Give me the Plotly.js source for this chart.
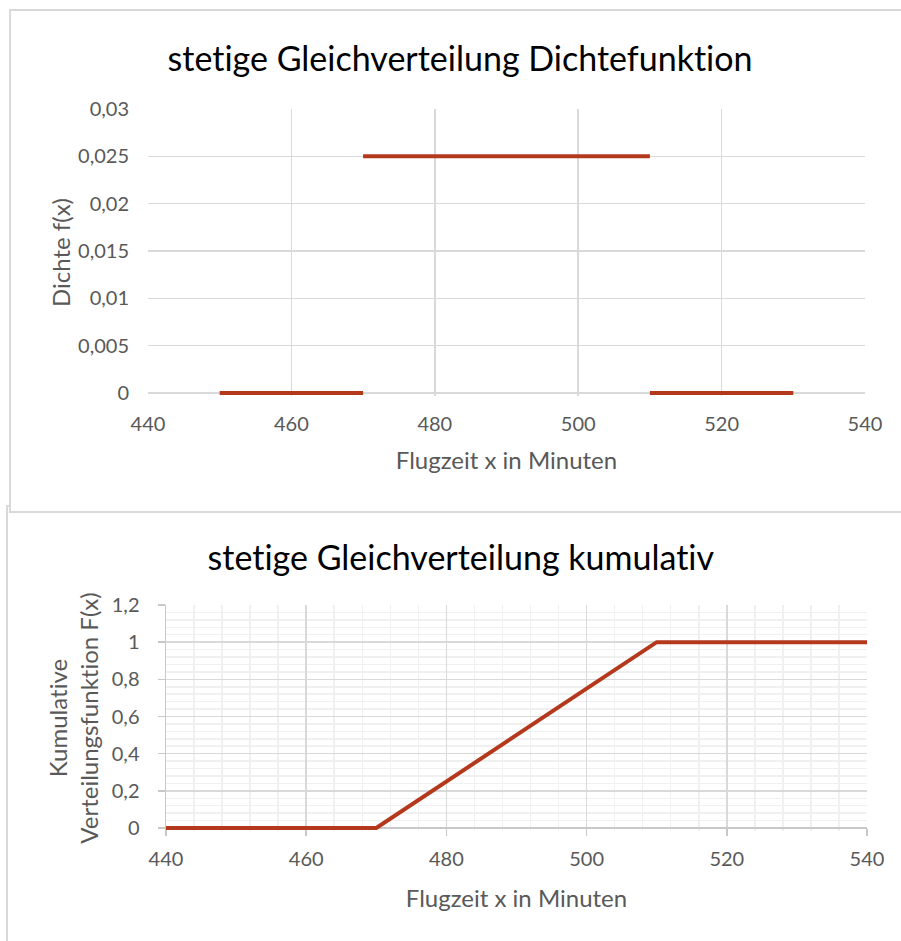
<!DOCTYPE html>
<html>
<head>
<meta charset="utf-8">
<script src="https://cdn.plot.ly/plotly-3.0.1.min.js"></script>
<style>
html,body{margin:0;padding:0;background:#fff;}
#chart text{font-variant-ligatures:none;font-feature-settings:"liga" 0;}
</style>
</head>
<body>
<div id="chart" style="width:901px;height:941px;"></div>
<script>
// Flight time (minutes), uniform on [470, 510]
const densityX = [450, 470, null, 470, 510, null, 510, 530];
const densityY = [0, 0, null, 0.025, 0.025, null, 0, 0];
const cdfX = [440, 470, 510, 540];
const cdfY = [0, 0, 1, 1];

const xTicks = [440, 460, 480, 500, 520, 540];
const xTickText = ['440', '460', '480', '500', '520', '540'];
const densityTicks = [0, 0.005, 0.01, 0.015, 0.02, 0.025, 0.03];
const densityTickText = ['0', '0,005', '0,01', '0,015', '0,02', '0,025', '0,03'];
const cdfTicks = [0, 0.2, 0.4, 0.6, 0.8, 1, 1.2];
const cdfTickText = ['0', '0,2', '0,4', '0,6', '0,8', '1', '1,2'];

const W = 901, H = 941;
const px = v => v / W;
const py = v => 1 - v / H;

// Plot boxes in pixels; a few pixels of head-room below zero so the
// thick zero-level lines are not cut in half by the plot clip.
const PAD = 3;
const boxPdf = {l: 148, r: 865, t: 109, b: 393, ymax: 0.03};
const boxCdf = {l: 166, r: 867, t: 605, b: 828, ymax: 1.2};
const padUnits = box => box.ymax * PAD / (box.b - box.t);

const FONT = 'Lato, "Open Sans", sans-serif';
const LINE = '#b3381c';
const GRID = '#d9d9d9';
const AXIS = '#c8c8c8';
const MINOR = '#f0f0f0';
const LABEL = '#595959';

const traces = [
  {
    x: densityX, y: densityY, xaxis: 'x', yaxis: 'y',
    type: 'scatter', mode: 'lines', connectgaps: false,
    line: {color: LINE, width: 4}, hoverinfo: 'skip'
  },
  {
    x: cdfX, y: cdfY, xaxis: 'x2', yaxis: 'y2',
    type: 'scatter', mode: 'lines',
    line: {color: LINE, width: 4}, hoverinfo: 'skip'
  }
];

const tickFont = {family: FONT, size: 20, color: LABEL};
const axTitleFont = {family: FONT, size: 24, color: LABEL};

const layout = {
  width: W, height: H,
  margin: {l: 0, r: 0, t: 0, b: 0},
  paper_bgcolor: '#ffffff',
  plot_bgcolor: 'rgba(0,0,0,0)',
  showlegend: false,
  font: {family: FONT},
  xaxis: {
    domain: [px(boxPdf.l), px(boxPdf.r)], anchor: 'free', position: py(boxPdf.b),
    range: [440, 540], tickvals: xTicks, ticktext: xTickText,
    showgrid: true, gridcolor: GRID, gridwidth: 1.5, zeroline: false,
    showline: false, layer: 'below traces',
    ticks: '', ticklabelstandoff: 17, tickfont: tickFont,
    automargin: false,
    title: {text: 'Flugzeit x in Minuten', font: axTitleFont, standoff: 18}
  },
  yaxis: {
    domain: [py(boxPdf.b + PAD), py(boxPdf.t)], anchor: 'x',
    range: [-padUnits(boxPdf), boxPdf.ymax], tickvals: densityTicks, ticktext: densityTickText,
    showgrid: true, gridcolor: GRID, gridwidth: 1.5, zeroline: false,
    showline: false, layer: 'below traces',
    ticks: '', ticklabelstandoff: 18, tickfont: tickFont,
    automargin: false,
    title: {text: 'Dichte f(x)', font: axTitleFont, standoff: 0}
  },
  xaxis2: {
    domain: [px(boxCdf.l), px(boxCdf.r)], anchor: 'free', position: py(boxCdf.b),
    range: [440, 540], tickvals: xTicks, ticktext: xTickText,
    showgrid: true, gridcolor: GRID, gridwidth: 1.5, zeroline: false,
    showline: false, layer: 'below traces',
    ticks: 'outside', ticklen: 7, tickwidth: 1.5, tickcolor: AXIS,
    ticklabelstandoff: 6, tickfont: tickFont,
    minor: {dtick: 4, showgrid: true, gridcolor: MINOR, gridwidth: 1.5, ticks: ''},
    automargin: false,
    title: {text: 'Flugzeit x in Minuten', font: axTitleFont, standoff: 21}
  },
  yaxis2: {
    domain: [py(boxCdf.b + PAD), py(boxCdf.t)], anchor: 'x2',
    range: [-padUnits(boxCdf), boxCdf.ymax], tickvals: cdfTicks, ticktext: cdfTickText,
    showgrid: true, gridcolor: GRID, gridwidth: 1.5,
    zeroline: true, zerolinecolor: AXIS, zerolinewidth: 1.5,
    showline: true, linecolor: AXIS, linewidth: 1.5, layer: 'below traces',
    ticks: 'outside', ticklen: 7, tickwidth: 1.5, tickcolor: AXIS,
    ticklabelstandoff: 14, tickfont: tickFont,
    minor: {dtick: 0.04, showgrid: true, gridcolor: MINOR, gridwidth: 1.5, ticks: ''},
    automargin: false,
    title: {text: 'Kumulative<br>Verteilungsfunktion F(x)', font: axTitleFont, standoff: 6}
  },
  shapes: [
    // frame of the lower chart (partly hidden by the upper one)
    {type: 'rect', xref: 'paper', yref: 'paper', layer: 'below',
     x0: px(7), x1: px(920), y0: py(506), y1: py(960),
     fillcolor: '#ffffff', line: {color: GRID, width: 2}},
    // frame of the upper chart
    {type: 'rect', xref: 'paper', yref: 'paper', layer: 'below',
     x0: px(10), x1: px(920), y0: py(10), y1: py(512),
     fillcolor: '#ffffff', line: {color: GRID, width: 2}}
  ],
  annotations: [
    {text: 'stetige Gleichverteilung Dichtefunktion', xref: 'paper', yref: 'paper',
     x: px(460), y: py(57), xanchor: 'center', yanchor: 'middle', showarrow: false,
     font: {family: FONT, size: 34, color: '#000000'}},
    {text: 'stetige Gleichverteilung kumulativ', xref: 'paper', yref: 'paper',
     x: px(461), y: py(556), xanchor: 'center', yanchor: 'middle', showarrow: false,
     font: {family: FONT, size: 34, color: '#000000'}}
  ]
};

Plotly.newPlot('chart', traces, layout, {displayModeBar: false, staticPlot: true});
</script>
</body>
</html>
